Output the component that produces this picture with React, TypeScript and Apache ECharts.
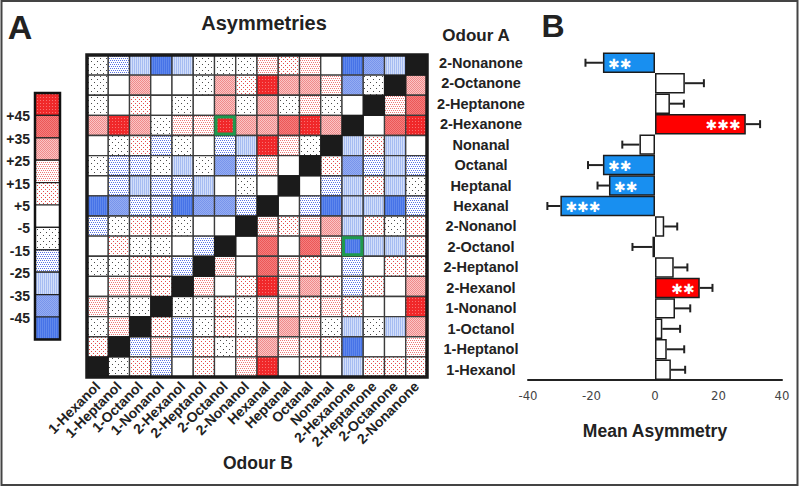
import React, { useEffect, useRef } from 'react';
import * as echarts from 'echarts';

// ---------- DATA ----------
// Odour B (columns, left -> right); also used bottom -> top for the heatmap rows
const odoursB = ['1-Hexanol', '1-Heptanol', '1-Octanol', '1-Nonanol', '2-Hexanol', '2-Heptanol', '2-Octanol', '2-Nonanol',
  'Hexanal', 'Heptanal', 'Octanal', 'Nonanal', '2-Hexanone', '2-Heptanone', '2-Octanone', '2-Nonanone'];
// Odour A (rows, top -> bottom)
const odoursA = ['2-Nonanone', '2-Octanone', '2-Heptanone', '2-Hexanone', 'Nonanal', 'Octanal', 'Heptanal', 'Hexanal',
  '2-Nonanol', '2-Octanol', '2-Heptanol', '2-Hexanol', '1-Nonanol', '1-Octanol', '1-Heptanol', '1-Hexanol'];

// Asymmetry (estimated class centres), rows = Odour A, columns = Odour B; null = same odour
const N = null;
const asymmetry: (number | null)[][] = [
  [-10, -20, -30, -50, -30, -10, -10, -10, 20, 10, 20, 0, -50, -40, -30, N],
  [-10, 0, 30, 0, 0, -10, 30, 10, 50, 30, 30, 20, -40, -10, N, 30],
  [-10, 0, 10, 0, -10, 0, 30, -10, 30, -10, 20, -10, 0, N, 20, 40],
  [30, 50, 30, -10, 20, 20, 50, 30, 30, 40, 50, 30, N, 0, 40, 50],
  [0, -10, 10, -20, -10, 0, -20, -30, 50, 20, -10, N, -30, 10, -30, 0],
  [-10, -20, -20, -10, -30, -10, -40, -20, 20, 0, N, 10, -40, -20, -30, -20],
  [0, -20, -30, -20, -20, -30, 0, -10, 0, N, 0, -20, -30, 10, -30, -10],
  [-50, -40, -20, -20, -50, -40, -40, -20, N, 0, -20, -50, -30, -30, -50, -20],
  [-20, -10, 10, 10, -10, 0, 0, N, 20, 10, 20, 30, -30, 10, -10, 10],
  [0, 10, -10, -10, 0, -20, N, 0, 40, 0, 40, 20, -50, -30, -30, 10],
  [-10, -10, 10, 10, -20, N, 20, 0, 40, 20, 10, 0, -20, 0, 10, 10],
  [0, 20, 20, 10, N, 20, 0, 10, 50, 20, 30, 10, -20, 10, 0, 30],
  [20, -10, -10, N, -10, -10, 10, -10, 20, 20, 10, 20, 10, 0, 0, 50],
  [-10, 20, N, 10, -20, -10, 10, -10, 20, 30, 20, -10, -30, -10, -30, 30],
  [10, N, -20, 20, -20, 10, -10, 10, 30, 20, 10, 10, -50, 0, 0, 20],
  [N, -10, 10, -20, 0, 10, 0, 20, 50, 0, 10, 0, -30, 10, 10, 10],
];

// cells outlined in green: [Odour A, Odour B]
const highlighted: [string, string][] = [['2-Hexanone', '2-Octanol'], ['2-Octanol', '2-Hexanone']];

// colour-key
const legendTicks = ['+45', '+35', '+25', '+15', '+5', '-5', '-15', '-25', '-35', '-45'];
const legendLevels = [50, 40, 30, 20, 10, 0, -10, -20, -30, -40, -50];

// Panel B: mean asymmetry per Odour A (same order as odoursA)
const meanAsym = [-16.4, 9.4, 4.7, 28.6, -4.9, -16.4, -14.5, -29.8, 2.9, -0.8, 5.9, 14.1, 6.3, 2.3, 3.7, 5.0];
const semAsym = [5.5, 6.0, 4.4, 4.5, 5.4, 4.7, 3.6, 4.1, 4.1, 6.3, 4.3, 4.0, 4.8, 5.6, 5.5, 4.5];
const significance = ['**', '', '', '***', '', '**', '**', '***', '', '', '', '**', '', '', '', ''];
const xTicksB = { min: -40, max: 40, interval: 20 };

// ---------- STYLE ----------
const FONT = '"Liberation Sans", Arial, Helvetica, sans-serif';

function levelOf(v: number): number {
  if (v >= 45) return 5;
  if (v >= 35) return 4;
  if (v >= 25) return 3;
  if (v >= 15) return 2;
  if (v >= 5) return 1;
  if (v > -5) return 0;
  if (v > -15) return -1;
  if (v > -25) return -2;
  if (v > -35) return -3;
  if (v > -45) return -4;
  return -5;
}

function tile(w: number, h: number, bg: string, dot: string, dots: number[][]) {
  const c = document.createElement('canvas');
  c.width = w;
  c.height = h;
  const ctx = c.getContext('2d')!;
  ctx.fillStyle = bg;
  ctx.fillRect(0, 0, w, h);
  ctx.fillStyle = dot;
  dots.forEach(([x, y, dw, dh]) => ctx.fillRect(x, y, dw || 1, dh || 1));
  return { image: c, repeat: 'repeat', imageWidth: w, imageHeight: h };
}

function makeFills(): Record<number, any> {
  return {
    5: tile(3, 3, '#f0282a', '#f77272', [[1, 1]]),
    4: tile(2, 2, '#f48080', '#ec5656', [[0, 0], [1, 1]]),
    3: tile(2, 2, '#fac6c6', '#f08a8a', [[0, 0], [1, 1]]),
    2: tile(4, 4, '#ffffff', '#f07878', [[0, 0], [2, 0], [1, 2], [3, 2]]),
    1: tile(4, 4, '#ffffff', '#e64848', [[1, 1], [3, 3]]),
    0: '#ffffff',
    [-1]: tile(6, 6, '#ffffff', '#4a4a4a', [[1, 1], [4, 4]]),
    [-2]: tile(4, 4, '#ffffff', '#5a74e6', [[0, 0], [2, 0], [1, 2], [3, 2]]),
    [-3]: tile(2, 2, '#d2def9', '#a6bcf2', [[0, 0, 1, 2]]),
    [-4]: tile(2, 2, '#95adf2', '#7894ec', [[0, 0], [1, 1]]),
    [-5]: tile(2, 2, '#4673e8', '#6088ec', [[0, 0, 1, 2]]),
  };
}

export default function App() {
  const ref = useRef<HTMLDivElement>(null);

  useEffect(() => {
    if (!ref.current) return;
    const chart = echarts.init(ref.current, undefined, { renderer: 'svg' });
    const fills = makeFills();

    const cells: number[][] = [];
    asymmetry.forEach((row, i) => {
      row.forEach((v, j) => {
        if (v !== null) cells.push([j, odoursB.indexOf(odoursA[i]), v]);
      });
    });
    const diag = odoursB.map((_, k) => [k, k]);
    const boxes = highlighted.map(([a, b]) => [odoursB.indexOf(b), odoursB.indexOf(a)]);

    const cellRect = (api: any, inset = 0) => {
      const c = api.coord([api.value(0), api.value(1)]);
      const s = api.size([1, 1]);
      return {
        x: c[0] - s[0] / 2 + inset,
        y: c[1] - s[1] / 2 + inset,
        width: s[0] - 2 * inset,
        height: s[1] - 2 * inset,
      };
    };

    const legendTop = 93;
    const legendH = 22.4;
    const legendGraphics: any[] = [];
    legendLevels.forEach((v, i) => {
      legendGraphics.push({
        type: 'rect',
        shape: { x: 35, y: legendTop + i * legendH, width: 25, height: legendH },
        style: { fill: fills[levelOf(v)], stroke: '#222', lineWidth: 1.2 },
      });
    });
    legendGraphics.push({
      type: 'rect',
      shape: { x: 35, y: legendTop, width: 25, height: legendH * legendLevels.length },
      style: { fill: 'none', stroke: '#111', lineWidth: 2.5 },
    });
    legendTicks.forEach((t, i) => {
      legendGraphics.push({
        type: 'text',
        x: 30,
        y: legendTop + (i + 1) * legendH + 1,
        style: { text: t, align: 'right', verticalAlign: 'middle', fontSize: 14, fontWeight: 'bold', fontFamily: FONT, fill: '#222' },
      });
    });

    const txt = (text: string, x: number, y: number, size: number) => ({
      type: 'text', x, y,
      style: { text, align: 'center', verticalAlign: 'middle', fontSize: size, fontWeight: 'bold', fontFamily: FONT, fill: '#222' },
    });

    chart.setOption({
      animation: false,
      backgroundColor: '#ffffff',
      grid: [
        { left: 87, top: 55, width: 340, height: 322, show: true, z: 10, backgroundColor: 'transparent', borderColor: '#1a1a1a', borderWidth: 3.5 },
        { left: 528, top: 52.5, width: 254, height: 327.5 },
      ],
      xAxis: [
        {
          gridIndex: 0, type: 'category', data: odoursB, position: 'bottom',
          axisLine: { show: false }, axisTick: { show: false },
          axisLabel: { interval: 0, rotate: 45, margin: 7, fontSize: 14, fontWeight: 'bold', fontFamily: FONT, color: '#222' },
        },
        {
          gridIndex: 1, type: 'value', min: xTicksB.min, max: xTicksB.max, interval: xTicksB.interval,
          axisLine: { show: true, onZero: false, lineStyle: { color: '#222', width: 2 } },
          axisTick: { show: false }, splitLine: { show: false },
          axisLabel: { margin: 9, fontSize: 13, fontFamily: '"Liberation Sans Narrow", "DejaVu Sans Condensed", sans-serif', color: '#444' },
          name: 'Mean Asymmetry', nameLocation: 'middle', nameGap: 42,
          nameTextStyle: { fontSize: 17.5, fontWeight: 'bold', fontFamily: FONT, color: '#222' },
        },
      ],
      yAxis: [
        { gridIndex: 0, type: 'category', data: odoursB, axisLine: { show: false }, axisTick: { show: false }, axisLabel: { show: false } },
        {
          gridIndex: 1, type: 'category', data: odoursA, inverse: true,
          axisLine: { show: false, onZero: false }, axisTick: { show: false },
          axisLabel: { align: 'center', margin: 47, fontSize: 14.5, fontWeight: 'bold', fontFamily: FONT, color: '#222' },
        },
      ],
      series: [
        {
          type: 'custom', xAxisIndex: 0, yAxisIndex: 0, data: cells, z: 2,
          renderItem: (_p: any, api: any) => ({
            type: 'rect', shape: cellRect(api),
            style: { fill: fills[levelOf(api.value(2))], stroke: '#3c3c3c', lineWidth: 1.3 },
          }),
        },
        {
          type: 'custom', xAxisIndex: 0, yAxisIndex: 0, data: diag, z: 3,
          renderItem: (_p: any, api: any) => ({
            type: 'rect', shape: cellRect(api),
            style: { fill: '#1b1b1b', stroke: '#1b1b1b', lineWidth: 1 },
          }),
        },
        {
          type: 'custom', xAxisIndex: 0, yAxisIndex: 0, data: boxes, z: 4,
          renderItem: (_p: any, api: any) => ({
            type: 'rect', shape: cellRect(api, 1.5),
            style: { fill: 'none', stroke: '#1f9a4e', lineWidth: 3 },
          }),
        },
        {
          type: 'bar', xAxisIndex: 1, yAxisIndex: 1, barWidth: '100%', z: 2,
          data: meanAsym.map((v, i) => ({
            value: v,
            itemStyle: { color: significance[i] ? (v > 0 ? '#ff0000' : '#188ff0') : '#ffffff' },
          })),
          itemStyle: { borderColor: '#1c1c1c', borderWidth: 1.5 },
        },
        {
          type: 'custom', xAxisIndex: 1, yAxisIndex: 1, z: 5,
          data: meanAsym.map((v, i) => [v, i, semAsym[i]]),
          renderItem: (params: any, api: any) => {
            const v = api.value(0);
            const k = api.value(1);
            const e = api.value(2);
            const dir = v >= 0 ? 1 : -1;
            const p0 = api.coord([v, k]);
            const p1 = api.coord([v + dir * e, k]);
            const sig = significance[params.dataIndex];
            const children: any[] = [
              { type: 'line', shape: { x1: p0[0], y1: p0[1], x2: p1[0], y2: p1[1] }, style: { stroke: '#222', lineWidth: 2 } },
              { type: 'line', shape: { x1: p1[0], y1: p1[1] - 4, x2: p1[0], y2: p1[1] + 4 }, style: { stroke: '#222', lineWidth: 2 } },
            ];
            if (sig) {
              children.push({
                type: 'text', x: p0[0] - dir * 5, y: p0[1] + 1,
                style: {
                  text: sig.replace(/\*/g, '\u2731'), fill: '#ffffff', align: dir > 0 ? 'right' : 'left', verticalAlign: 'middle',
                  fontSize: 14, fontFamily: '"DejaVu Sans", sans-serif',
                },
              });
            }
            return { type: 'group', children };
          },
        },
      ],
      graphic: [
        { type: 'rect', shape: { x: 1.5, y: 1, width: 796, height: 484 }, style: { fill: 'none', stroke: '#444', lineWidth: 2 } },
        txt('A', 20, 27, 34),
        txt('Asymmetries', 264, 23, 20),
        txt('Odour A', 476, 35, 17),
        txt('B', 553, 26, 32),
        txt('Odour B', 258, 463, 17.5),
        ...legendGraphics,
      ],
    });

    return () => chart.dispose();
  }, []);

  return <div ref={ref} style={{ position: 'absolute', left: 0, top: 0, width: 800, height: 486 }} />;
}
